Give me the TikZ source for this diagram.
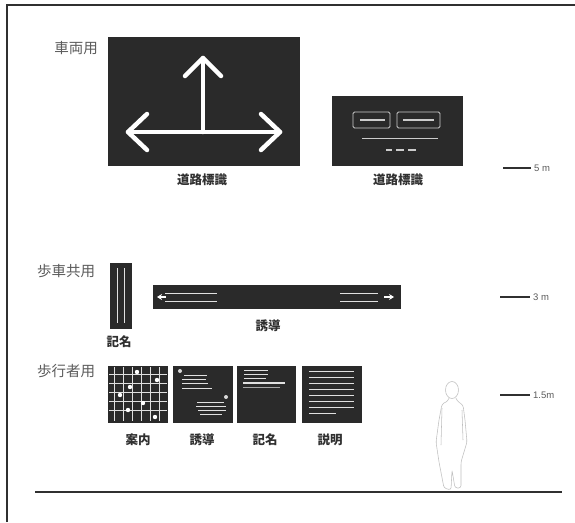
\documentclass[tikz,border=0pt]{standalone}
\usepackage{fontspec}
\setmainfont{Liberation Sans}
\newfontfamily\jp{Noto Sans CJK JP}
\usetikzlibrary{arrows.meta}
\definecolor{signdark}{HTML}{2A2A2A}
\definecolor{catgrey}{HTML}{5C5C5C}
\definecolor{labeldark}{HTML}{303030}
\begin{document}
\begin{tikzpicture}[x=1pt,y=-1pt,
  signbox/.style={fill=signdark,draw=signdark,line width=0.6pt,inner sep=0pt},
  catlabel/.style={text=catgrey,font=\jp\fontsize{14.5}{15}\selectfont,inner sep=0pt},
  signlabel/.style={text=labeldark,font=\jp\bfseries\fontsize{12.5}{13}\selectfont,inner sep=0pt},
  scaletext/.style={text=catgrey,font=\fontsize{9.5}{10}\selectfont,inner sep=0pt,anchor=west},
  scaleline/.style={draw=labeldark,line width=1.2pt},
  bigarrow/.style={draw=white,line width=4.5pt,line cap=round,line join=round},
  glyph/.style={draw=white!88!black,line width=0.8pt},
  faint/.style={draw=gray!40,line width=0.8pt},
  person/.style={draw=gray!50,line width=0.55pt,rounded corners=2.5pt}]
\useasboundingbox (0,0) rectangle (575,522);
\fill[white] (0,0) rectangle (575,522);

% frame
\draw[labeldark,line width=1.4pt] (7,522) -- (7,5) -- (575,5);

% ---------- vehicles ----------
\node[catlabel] (catcar) at (76,48) {車両用};
\node[signbox,minimum width=191pt,minimum height=128pt] (big) at (203.5,101) {};
\draw[bigarrow] (203,132) -- (203,58);
\draw[bigarrow] (185,76) -- (203,58) -- (221,76);
\draw[bigarrow] (128,132) -- (280,132);
\draw[bigarrow] (147,114) -- (128,132) -- (147,150);
\draw[bigarrow] (261,114) -- (280,132) -- (261,150);
\node[signlabel] (bigL) at (202,180) {道路標識};

\node[signbox,minimum width=130pt,minimum height=69pt] (small) at (397.5,131) {};
\draw[faint,rounded corners=1.5pt] (353,112) rectangle (390,128);
\draw[faint,rounded corners=1.5pt] (397,112) rectangle (440,128);
\draw[faint,line width=1.4pt] (360,120) -- (385,120);
\draw[faint,line width=1.4pt] (403,120) -- (434,120);
\draw[draw=gray!40,line width=0.5pt] (362,138) -- (438,138);
\draw[faint,line width=1.2pt] (386,150) -- (392,150) (396,150) -- (404,150) (408,150) -- (416,150);
\node[signlabel] (smallL) at (398,180) {道路標識};

\coordinate (s5a) at (503,168);
\node[scaletext] (s5) at (534,168) {5 m};
\draw[scaleline] (s5a) -- ([xshift=-3pt]s5.west);

% ---------- shared ----------
\node[catlabel] (catshare) at (66,271) {歩車共用};
\node[signbox,minimum width=21pt,minimum height=65pt] (post) at (120.5,295.5) {};
\draw[glyph] (117,268) -- (117,323);
\draw[glyph] (124,268) -- (124,323);
\node[signlabel] (postL) at (119,342) {記名};

\node[signbox,minimum width=247pt,minimum height=23pt] (long) at (276.5,297) {};
\draw[glyph] (165,293) -- (217,293) (165,301) -- (217,301);
\draw[glyph] (340,293) -- (378,293) (340,301) -- (378,301);
\draw[white,line width=1.2pt,-{Stealth[length=5pt,width=6pt]}] (166,297) -- (157,297);
\draw[white,line width=1.2pt,-{Stealth[length=5pt,width=6pt]}] (384,297) -- (394,297);
\node[signlabel] (longL) at (268,326) {誘導};

\coordinate (s3a) at (500,297);
\node[scaletext] (s3) at (533,297) {3 m};
\draw[scaleline] (s3a) -- ([xshift=-3pt]s3.west);

% ---------- pedestrians ----------
\node[catlabel] (catped) at (66,371) {歩行者用};

\node[signbox,minimum width=59pt,minimum height=56pt] (map) at (138,394) {};
\foreach \x in {114,123,132,141,150,159}
  \draw[glyph] (\x,367) -- (\x,421);
\foreach \y in {374,383,392,401,410}
  \draw[glyph] (109,\y) -- (167,\y);
\foreach \p in {(137,372),(157,380),(130,387),(120,395),(143,403),(128,410),(155,417)}
  \fill[white] \p circle (2.2pt);
\node[signlabel] (mapL) at (138,440) {案内};

\node[signbox,minimum width=59pt,minimum height=56pt] (guide) at (202.5,394) {};
\fill[white!85!black] (180,371) circle (2pt);
\draw[glyph] (184,375) -- (207,375) (182,379) -- (206,379) (182,383) -- (208,383) (182,388) -- (212,388);
\fill[white!85!black] (226,397) circle (2pt);
\draw[glyph] (197,402) -- (224,402) (196,406) -- (226,406) (198,410) -- (226,410) (200,414) -- (222,414);
\node[signlabel] (guideL) at (202,440) {誘導};

\node[signbox,minimum width=58pt,minimum height=56pt] (name) at (266,394) {};
\draw[glyph] (244,370) -- (268,370) (244,374) -- (268,374) (244,378) -- (266,378);
\draw[glyph,line width=1.2pt] (243,383) -- (285,383);
\draw[draw=gray!70,line width=0.6pt] (243,387) -- (280,387);
\node[signlabel] (nameL) at (265,440) {記名};

\node[signbox,minimum width=59pt,minimum height=56pt] (info) at (331.5,394) {};
\foreach \y in {371,377,383,389,395,401,407}
  \draw[glyph] (309,\y) -- (354,\y);
\draw[glyph] (309,413) -- (336,413);
\node[signlabel] (infoL) at (330,440) {説明};

\coordinate (s15a) at (500,395);
\node[scaletext] (s15) at (533,395) {1.5m};
\draw[scaleline] (s15a) -- ([xshift=-3pt]s15.west);

% standing figure
\draw[person] (452,390) ellipse (6.5pt and 8.5pt);
\draw[person] (449,398) -- (448,401) -- (442,404) -- (439,420) -- (436,442)
  -- (439,462) -- (444,488) -- (451,490) -- (452,470) -- (455,488) -- (461,488)
  -- (461,462) -- (467,442) -- (465,420) -- (463,405) -- (457,401) -- (456,398);
\draw[person] (442,408) -- (441,445);
\draw[person] (462,410) -- (463,440);

% ground
\draw[draw=labeldark,line width=2.2pt] (35,492) -- (562,492);
\end{tikzpicture}
\end{document}
